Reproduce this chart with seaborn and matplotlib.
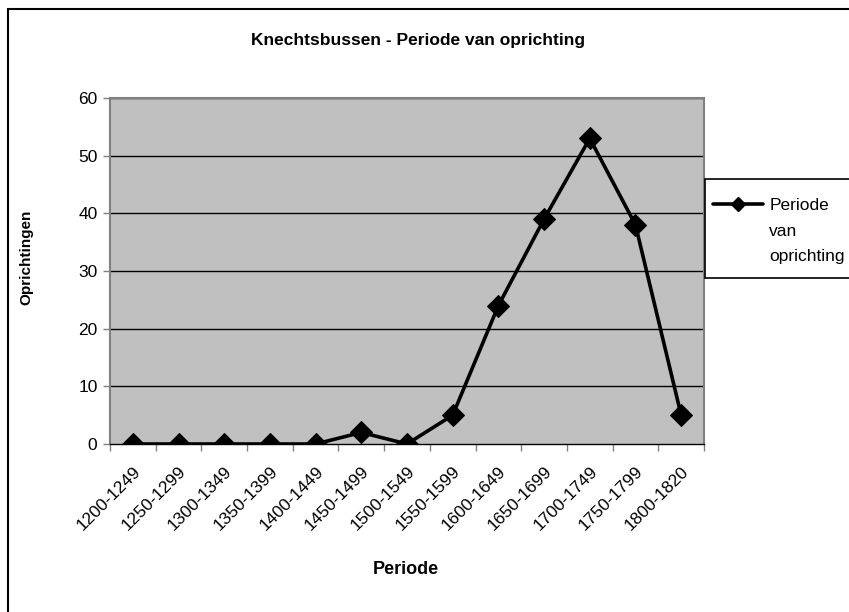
import matplotlib
matplotlib.use("Agg")
import matplotlib.pyplot as plt
import matplotlib.transforms as mtransforms
import numpy as np
import pandas as pd
import seaborn as sns
from matplotlib.lines import Line2D

periods = ["1200-1249", "1250-1299", "1300-1349", "1350-1399", "1400-1449",
           "1450-1499", "1500-1549", "1550-1599", "1600-1649", "1650-1699",
           "1700-1749", "1750-1799", "1800-1820"]
counts = [0, 0, 0, 0, 0, 2, 0, 5, 24, 39, 53, 38, 5]
y_ticks = [0, 10, 20, 30, 40, 50, 60]
legend_lines = ["Periode", "van", "oprichting"]

sns.set_theme(style="white")
plt.rcParams['font.family'] = ['Liberation Sans', 'DejaVu Sans']
plt.rcParams['text.color'] = 'black'
plt.rcParams['xtick.color'] = 'black'
plt.rcParams['ytick.color'] = 'black'

df = pd.DataFrame({"Periode": periods, "Oprichtingen": counts})
df["pos"] = np.arange(len(df))

W, H = 849, 612
fig = plt.figure(figsize=(W / 100, H / 100), dpi=100)
ax = fig.add_axes([110 / W, 1 - 444 / H, 594 / W, 346 / H])
ax.set_facecolor("#c0c0c0")

sns.lineplot(data=df, x="pos", y="Oprichtingen", ax=ax, color="black",
             linewidth=2.6, marker="D", markersize=11,
             markeredgecolor="black", markerfacecolor="black", zorder=3)

ax.set_xlim(-0.5, len(periods) - 0.5)
ax.set_ylim(0, 60)
ax.set_yticks(y_ticks)
ax.set_yticklabels([str(t) for t in y_ticks], fontsize=12.5)
for t in y_ticks[1:]:
    ax.axhline(t, color="black", linewidth=1, zorder=1)

ax.set_xticks(df["pos"])
ax.set_xticklabels(periods, rotation=45, ha="right", rotation_mode="anchor",
                   fontsize=12.5)
shift = mtransforms.ScaledTranslation(-6 / 100, 0, fig.dpi_scale_trans)
for lbl in ax.get_xticklabels():
    lbl.set_transform(lbl.get_transform() + shift)
ax.set_xticks(np.arange(-0.5, len(periods)), minor=True)
ax.tick_params(axis="x", which="major", length=0, pad=14)
ax.tick_params(axis="x", which="minor", length=5, width=1, color="#808080",
               direction="out", bottom=True)
ax.tick_params(axis="y", length=5, width=1, color="#808080", direction="out",
               left=True, pad=4)

for side in ["top", "right", "left", "bottom"]:
    ax.spines[side].set_color("#808080")
    ax.spines[side].set_linewidth(1.5)
ax.spines["bottom"].set_color("black")
ax.spines["bottom"].set_linewidth(1)
ax.set_xlabel("")
ax.set_ylabel("")

fig.text(418 / W, 1 - 41 / H, "Knechtsbussen - Periode van oprichting",
         fontsize=12.5, fontweight="bold", ha="center", va="center")
fig.text(406 / W, 1 - 569 / H, "Periode", fontsize=13, fontweight="bold",
         ha="center", va="center")
fig.text(26 / W, 1 - 257 / H, "Oprichtingen", fontsize=11,
         fontweight="bold", ha="center", va="center", rotation=90)

# legend: frame drawn separately so the box can be taller than its text
handles = [Line2D([], [], color="black", linewidth=2.6, marker="D",
                  markersize=7)]
handles += [Line2D([], [], color="none") for _ in legend_lines[1:]]
fig.legend(handles, legend_lines, loc="upper left",
           bbox_to_anchor=(705 / W, 1 - 190 / H), fontsize=12.5,
           frameon=False, borderaxespad=0, handlelength=2.9,
           handletextpad=0.35, borderpad=0.45, labelspacing=0.6)
fig.add_artist(plt.Rectangle((705 / W, 1 - 278 / H), 0.3, 99 / H,
                             transform=fig.transFigure, fill=True,
                             facecolor="white", edgecolor="black",
                             linewidth=1.2, zorder=0.5))

fig.add_artist(plt.Rectangle((8 / W, -0.1), 1.2, 1 - 9 / H + 0.1,
                             transform=fig.transFigure, fill=False,
                             edgecolor="black", linewidth=1.5))

fig.savefig("out.png", dpi=100)
